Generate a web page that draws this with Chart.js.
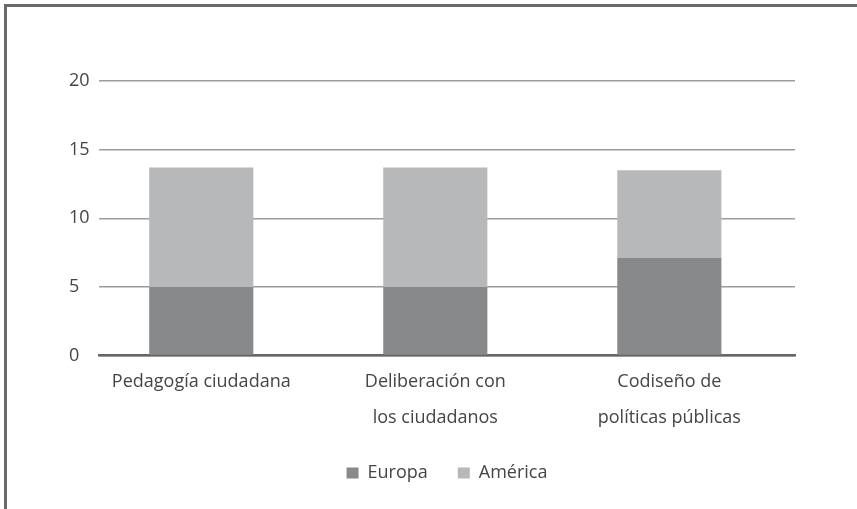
<!DOCTYPE html>
<html>
<head>
<meta charset="utf-8">
<script src="https://cdn.jsdelivr.net/npm/chart.js@4.4.0/dist/chart.umd.min.js"></script>
<style>
  html, body { margin: 0; padding: 0; background: #fff; }
  #wrap { position: relative; width: 857px; height: 509px; }
  #frame { position: absolute; left: 4px; top: 4px; right: 0; bottom: 0;
           border-top: 3px solid #6a6a6a; border-left: 3px solid #6a6a6a; pointer-events: none; }
  canvas { position: absolute; left: 0; top: 0; }
</style>
</head>
<body>
<div id="wrap">
  <canvas id="myChart" width="857" height="509"></canvas>
  <div id="frame"></div>
</div>
<script>
const categories = [
  ['Pedagogía ciudadana'],
  ['Deliberación con', 'los ciudadanos'],
  ['Codiseño de', 'políticas públicas']
];
const europa = [5, 5, 7.1];
const america = [8.7, 8.7, 6.4];
const yTicks = [0, 5, 10, 15, 20];

const textColor = '#454545';
const fontFamily = "'Open Sans', 'Noto Sans', sans-serif";

function toPoints(values) {
  return values.map((v, i) => ({ x: i, y: v }));
}

const ctx = document.getElementById('myChart').getContext('2d');
const barChart = new Chart(ctx, {
  type: 'bar',
  data: {
    datasets: [{
      label: 'Europa',
      data: toPoints(europa),
      backgroundColor: '#87898b',
      borderWidth: 0
    }, {
      label: 'América',
      data: toPoints(america),
      backgroundColor: '#b7b8b9',
      borderWidth: 0
    }]
  },
  options: {
    responsive: false,
    animation: false,
    barPercentage: 0.445,
    categoryPercentage: 1,
    layout: {
      padding: { left: 69, right: 62, top: 81, bottom: 17 }
    },
    scales: {
      x: {
        type: 'linear',
        stacked: true,
        offset: false,
        min: -0.437,
        max: 2.537,
        grid: { display: false, drawTicks: false, offset: false },
        border: { display: true, color: '#666666', width: 2.5 },
        afterBuildTicks: scale => {
          scale.ticks = categories.map((c, i) => ({ value: i }));
        },
        afterFit: scale => { scale.height = 78.5; },
        ticks: {
          autoSkip: false,
          maxRotation: 0,
          padding: 8,
          color: textColor,
          font: { family: fontFamily, size: 18, lineHeight: 2 },
          callback: value => categories[value]
        }
      },
      y: {
        stacked: true,
        min: 0,
        max: 20,
        afterBuildTicks: scale => {
          scale.ticks = yTicks.map(v => ({ value: v }));
        },
        afterFit: scale => { scale.width = 30; },
        grid: { color: '#9c9c9c', lineWidth: 1.5, drawTicks: false },
        border: { display: false },
        ticks: {
          crossAlign: 'far',
          color: textColor,
          font: { family: fontFamily, size: 18 }
        }
      }
    },
    plugins: {
      tooltip: { enabled: false },
      legend: {
        position: 'bottom',
        fullSize: false,
        maxHeight: 75.5,
        labels: {
          boxWidth: 12,
          boxHeight: 11,
          padding: 30,
          color: textColor,
          font: { family: fontFamily, size: 18 }
        }
      }
    }
  }
});
</script>
</body>
</html>
